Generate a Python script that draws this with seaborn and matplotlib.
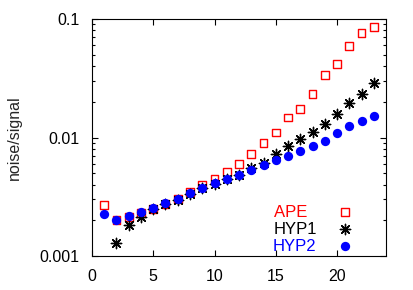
import numpy as np
import pandas as pd
import seaborn as sns
import matplotlib
matplotlib.use("Agg")
import matplotlib.pyplot as plt
from matplotlib.ticker import LogLocator, FixedLocator, NullFormatter

# values
x_ape = list(range(1, 24))
ape = [0.00269, 0.00201, 0.00213, 0.00231, 0.00249, 0.00275, 0.00303, 0.00347,
       0.00397, 0.00447, 0.00512, 0.00597, 0.00726, 0.00899, 0.0110, 0.0148,
       0.0174, 0.0233, 0.0337, 0.0415, 0.0595, 0.0762, 0.0856]

x_hyp1 = list(range(2, 24))
hyp1 = [0.00129, 0.00183, 0.00215, 0.00249, 0.00275, 0.00297, 0.00335, 0.00372,
        0.00406, 0.00447, 0.00483, 0.00553, 0.00613, 0.00730, 0.00848, 0.00971,
        0.0111, 0.0130, 0.0158, 0.0196, 0.0233, 0.0288]

x_hyp2 = list(range(1, 24))
hyp2 = [0.00226, 0.00201, 0.00218, 0.00237, 0.00256, 0.00282, 0.00303, 0.00338,
        0.00377, 0.00411, 0.00447, 0.00483, 0.00532, 0.00586, 0.00646, 0.00702,
        0.00774, 0.00848, 0.00934, 0.0110, 0.0125, 0.0138, 0.0153]

df_ape = pd.DataFrame({"x": x_ape, "y": ape})
df_h1 = pd.DataFrame({"x": x_hyp1, "y": hyp1})
df_h2 = pd.DataFrame({"x": x_hyp2, "y": hyp2})

sns.set_style("ticks")
plt.rcParams["font.family"] = ["Liberation Sans", "DejaVu Sans"]

fig = plt.figure(figsize=(4.14, 2.9), dpi=100)
ax = fig.add_axes([0.2222, 0.1172, 0.7102, 0.8173])

sns.scatterplot(data=df_ape, x="x", y="y", ax=ax, marker="s", s=30,
                facecolor="none", edgecolor="red", linewidth=1.0, label="APE  ")
sns.scatterplot(data=df_h1, x="x", y="y", ax=ax, marker=(8, 2, 0), s=55,
                color="black", edgecolor="black", linewidth=1.0, label="HYP1")
sns.scatterplot(data=df_h2, x="x", y="y", ax=ax, marker="o", s=45,
                color="blue", edgecolor="blue", linewidth=0, label="HYP2")

ax.set_yscale("log")
ax.set_xlim(0, 24)
ax.set_ylim(0.001, 0.1)
ax.xaxis.set_major_locator(FixedLocator([0, 5, 10, 15, 20]))
ax.set_yticks([0.001, 0.01, 0.1])
ax.set_yticklabels(["0.001", "0.01", "0.1"])
ax.yaxis.set_minor_locator(LogLocator(base=10, subs=np.arange(2, 10)))
ax.yaxis.set_minor_formatter(NullFormatter())

ax.tick_params(which="both", direction="in", top=True, right=True,
               labelsize=11.5, colors="black", width=0.8)
ax.tick_params(which="major", length=4, pad=9)
ax.tick_params(which="minor", length=2)
for sp in ax.spines.values():
    sp.set_linewidth(0.8)
    sp.set_color("black")

ax.set_xlabel("")
ax.set_ylabel("noise/signal", fontsize=11.5, labelpad=13)

leg = ax.legend(loc="lower right", bbox_to_anchor=(0.94, -0.018),
                frameon=False, markerfirst=False,
                fontsize=12, handletextpad=0.7, labelspacing=0.12,
                labelcolor=["red", "black", "blue"], borderaxespad=0)

fig.savefig("out.png", dpi=100)
